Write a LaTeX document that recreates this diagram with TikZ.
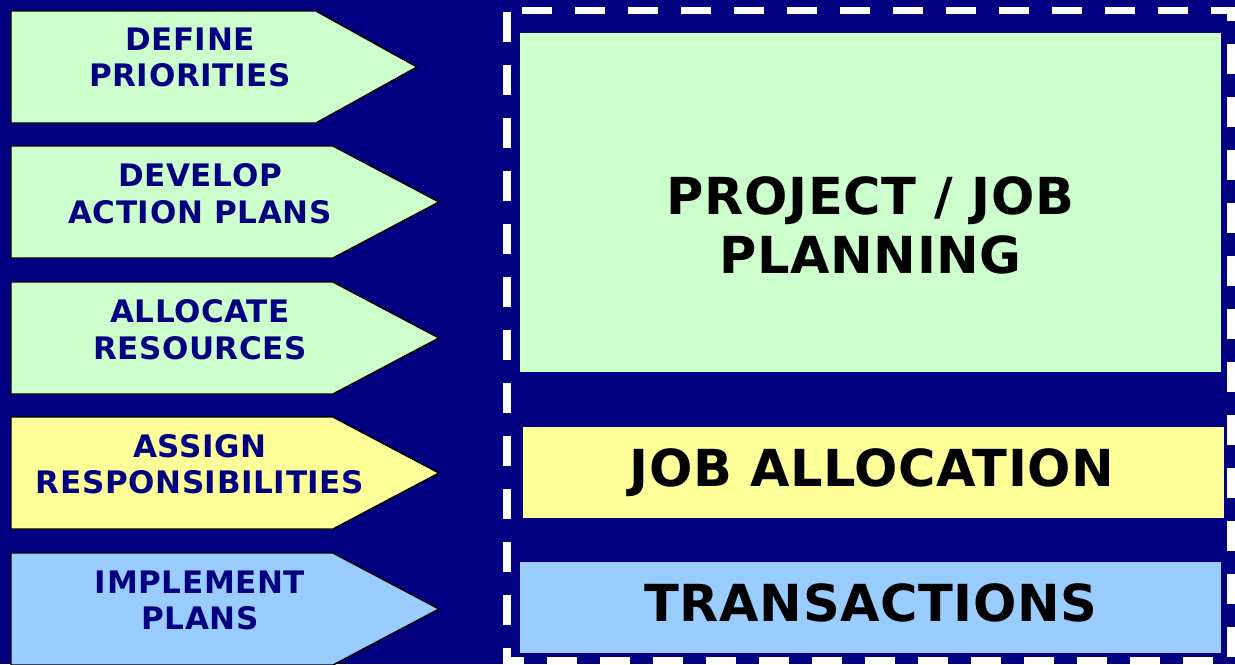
\documentclass[tikz,border=0pt]{standalone}
\usepackage{fontspec}
\newfontfamily\stepfont{DejaVu Sans}[LetterSpace=2]
\newfontfamily\stagefont{DejaVu Sans}[LetterSpace=1.2]
\definecolor{navybg}{RGB}{0,0,128}
\definecolor{greenfill}{RGB}{204,255,204}
\definecolor{yellowfill}{RGB}{255,255,153}
\definecolor{bluefill}{RGB}{153,204,255}

\begin{document}
\tikzset{every picture/.style={line width=0.75pt}}

\begin{tikzpicture}[x=0.75pt,y=0.75pt,yscale=-1,xscale=1,
  steparrow/.style={draw=black, line width=1.1pt, line join=miter},
  steplabel/.style={text=navybg, align=center, inner sep=0pt, font=\stepfont\bfseries\fontsize{23.25}{27.4}\selectfont},
  stagelabel/.style={text=black, align=center, inner sep=0pt, font=\stagefont\bfseries\fontsize{38.25}{44.25}\selectfont}]

%Background
\path[use as bounding box, fill=navybg] (0,0) rectangle (1235,664);

%Shape: Arrow [define]
\draw[steparrow, fill=greenfill] (11,11) -- (316,11) -- (417,67) -- (316,123) -- (11,123) -- cycle ;
%Shape: Arrow [develop]
\draw[steparrow, fill=greenfill] (11,146) -- (333,146) -- (439,202) -- (333,258) -- (11,258) -- cycle ;
%Shape: Arrow [allocate]
\draw[steparrow, fill=greenfill] (11,282) -- (333,282) -- (439,338) -- (333,394) -- (11,394) -- cycle ;
%Shape: Arrow [assign]
\draw[steparrow, fill=yellowfill] (11,417) -- (333,417) -- (439,473) -- (333,529) -- (11,529) -- cycle ;
%Shape: Arrow [implement]
\draw[steparrow, fill=bluefill] (11,553) -- (333,553) -- (439,609) -- (333,665) -- (11,665) -- cycle ;

%Dashed frame
\draw[white, line width=5.6pt, dash pattern=on 22.5pt off 17.25pt, dash phase=28.5pt] (507,10.5) -- (1231,10.5) -- (1231,661) -- (507,661) -- cycle ;

%Rect: stages
\fill[greenfill] (520,33) rectangle (1221,372) ;
\fill[yellowfill] (523,427) rectangle (1224,518) ;
\fill[bluefill] (520,562) rectangle (1221,653) ;

% Text Node
\node[steplabel] (define) at (190,57.5) {DEFINE\\PRIORITIES};
% Text Node
\node[steplabel] (develop) at (200,193.5) {DEVELOP\\ACTION PLANS};
% Text Node
\node[steplabel] (allocate) at (200,329.5) {ALLOCATE\\RESOURCES};
% Text Node
\node[steplabel] (assign) at (200,464) {ASSIGN\\RESPONSIBILITIES};
% Text Node
\node[steplabel] (implement) at (200,600.5) {IMPLEMENT\\PLANS};
% Text Node
\node[stagelabel] (planning) at (870.5,225) {PROJECT / JOB\\PLANNING};
% Text Node
\node[stagelabel, anchor=base] (allocation) at (872,486) {JOB ALLOCATION};
% Text Node
\node[stagelabel, anchor=base] (transactions) at (871,621) {TRANSACTIONS};

\end{tikzpicture}
\end{document}
